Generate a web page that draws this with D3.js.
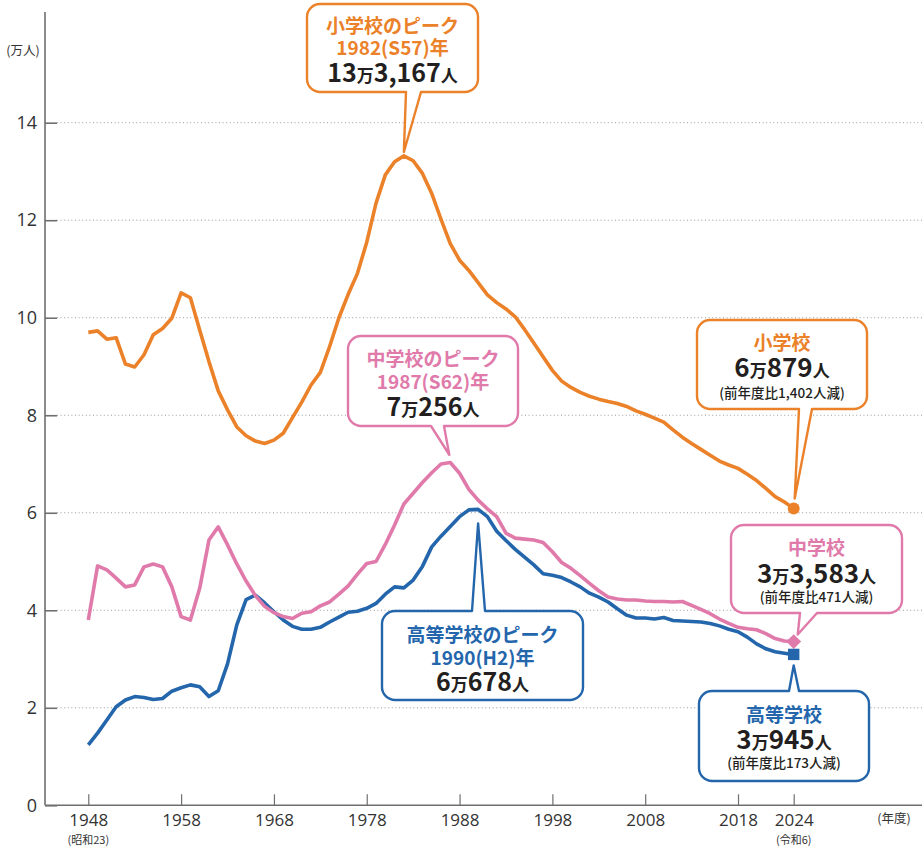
<!DOCTYPE html>
<html>
<head>
<meta charset="utf-8">
<script src="https://cdn.jsdelivr.net/npm/d3@7"></script>
<style>
  body { margin: 0; background: #fff; }
  svg text { font-family: "Noto Sans CJK JP", "Noto Sans", sans-serif; }
</style>
</head>
<body>
<div id="chart-area"></div>
<script>
// 生徒数(万人) 1948〜2024年度
var firstYear = 1948, lastYear = 2024;
var years = d3.range(firstYear, lastYear + 1);

var elementary = [
  9.70, 9.73, 9.56, 9.59, 9.05, 8.99, 9.24, 9.65, 9.78, 9.99,
  10.51, 10.41, 9.75, 9.10, 8.50, 8.11, 7.76, 7.58, 7.47, 7.42,
  7.49, 7.63, 7.95, 8.27, 8.62, 8.88, 9.41, 10.00, 10.48, 10.91,
  11.55, 12.35, 12.93, 13.20, 13.32, 13.22, 12.96, 12.55, 12.02, 11.52,
  11.18, 10.97, 10.72, 10.47, 10.31, 10.18, 10.02, 9.76, 9.48, 9.20,
  8.92, 8.70, 8.57, 8.47, 8.39, 8.33, 8.28, 8.24, 8.18, 8.09,
  8.02, 7.94, 7.86, 7.70, 7.55, 7.42, 7.30, 7.18, 7.06, 6.98,
  6.91, 6.79, 6.66, 6.50, 6.33, 6.22, 6.09
];
var juniorHigh = [
  3.80, 4.91, 4.83, 4.66, 4.48, 4.52, 4.89, 4.95, 4.89, 4.48,
  3.87, 3.80, 4.45, 5.44, 5.71, 5.34, 4.95, 4.60, 4.30, 4.08,
  3.95, 3.87, 3.83, 3.94, 3.97, 4.09, 4.17, 4.33, 4.50, 4.74,
  4.96, 5.00, 5.35, 5.75, 6.18, 6.40, 6.62, 6.82, 7.00, 7.03,
  6.81, 6.48, 6.26, 6.08, 5.92, 5.58, 5.48, 5.46, 5.44, 5.39,
  5.20, 4.98, 4.86, 4.71, 4.55, 4.40, 4.27, 4.23, 4.21, 4.21,
  4.19, 4.18, 4.18, 4.17, 4.18, 4.10, 4.02, 3.93, 3.82, 3.73,
  3.65, 3.62, 3.60, 3.52, 3.42, 3.37, 3.36
];
var highSchool = [
  1.24, 1.48, 1.75, 2.02, 2.16, 2.23, 2.21, 2.17, 2.19, 2.34,
  2.41, 2.47, 2.43, 2.23, 2.35, 2.90, 3.70, 4.22, 4.31, 4.15,
  3.97, 3.80, 3.67, 3.61, 3.61, 3.65, 3.76, 3.86, 3.96, 3.98,
  4.04, 4.14, 4.33, 4.48, 4.46, 4.62, 4.90, 5.30, 5.52, 5.72,
  5.92, 6.06, 6.07, 5.92, 5.62, 5.43, 5.25, 5.09, 4.93, 4.75,
  4.72, 4.67, 4.58, 4.48, 4.35, 4.27, 4.17, 4.03, 3.90, 3.84,
  3.84, 3.82, 3.85, 3.79, 3.78, 3.77, 3.76, 3.73, 3.68, 3.61,
  3.56, 3.45, 3.31, 3.21, 3.15, 3.12, 3.09
];

var yTicks = [0, 2, 4, 6, 8, 10, 12, 14];
var xTicks = [1948, 1958, 1968, 1978, 1988, 1998, 2008, 2018, 2024];
var xSubLabels = { 1948: "(昭和23)", 2024: "(令和6)" };

var peakElementary = { year: 1982, value: 13.3167 };
var peakJunior = { year: 1987, value: 7.0256 };
var peakHigh = { year: 1990, value: 6.0678 };
var lastElementary = 6.0879, lastJunior = 3.3583, lastHigh = 3.0945;

var orange = "#EB8129", pink = "#E07AAA", blue = "#2466AC", ink = "#231F20", axisGray = "#6f6f6f";

var width = 922, height = 847;
var svg = d3.select("#chart-area").append("svg")
    .attr("width", width)
    .attr("height", height);

var x = d3.scaleLinear().domain([firstYear, lastYear]).range([88.3, 793.7]);
var y = d3.scaleLinear().domain([0, 14]).range([805.3, 122.7]);

// gridlines
svg.append("g").selectAll("line")
    .data(yTicks.filter(function(d) { return d > 0; }))
    .enter().append("line")
    .attr("x1", 57).attr("x2", width)
    .attr("y1", function(d) { return y(d); })
    .attr("y2", function(d) { return y(d); })
    .attr("stroke", "#9a9a9a")
    .attr("stroke-width", 1)
    .attr("stroke-dasharray", "1,2.6");

// y axis
var yAxis = svg.append("g")
    .attr("transform", "translate(45,0)")
    .call(d3.axisLeft(y).tickValues(yTicks).tickSize(-12).tickPadding(8));
yAxis.select(".domain").remove();
yAxis.selectAll("line").attr("stroke", axisGray).attr("stroke-width", 1.6);
yAxis.selectAll("text").attr("font-size", "18px").attr("fill", "#333")
    .style("font-family", "'Open Sans', 'Noto Sans', sans-serif");
svg.append("line")
    .attr("x1", 45).attr("x2", 45).attr("y1", 12).attr("y2", y(0))
    .attr("stroke", axisGray).attr("stroke-width", 1.6);

// x axis
var xAxis = svg.append("g")
    .attr("transform", "translate(0," + y(0) + ")")
    .call(d3.axisBottom(x).tickValues(xTicks).tickFormat(d3.format("d")).tickSize(-11).tickPadding(9));
xAxis.select(".domain").remove();
xAxis.selectAll("line").attr("stroke", axisGray).attr("stroke-width", 1.2);
xAxis.selectAll("text").attr("font-size", "17px").attr("fill", "#333")
    .style("font-family", "'Open Sans', 'Noto Sans', sans-serif");
svg.append("line")
    .attr("x1", 45).attr("x2", width).attr("y1", y(0)).attr("y2", y(0))
    .attr("stroke", axisGray).attr("stroke-width", 1.6);

svg.append("g").selectAll("text")
    .data(xTicks.filter(function(d) { return xSubLabels[d]; }))
    .enter().append("text")
    .attr("x", function(d) { return x(d); })
    .attr("y", 843.5)
    .attr("text-anchor", "middle")
    .attr("font-size", "11px")
    .attr("fill", "#333")
    .text(function(d) { return xSubLabels[d]; });

svg.append("text")
    .attr("x", 23).attr("y", 55)
    .attr("text-anchor", "middle")
    .attr("font-size", "12.5px").attr("fill", "#333")
    .text("(万人)");
svg.append("text")
    .attr("x", 894).attr("y", 823)
    .attr("text-anchor", "middle")
    .attr("font-size", "12.5px").attr("fill", "#333")
    .text("(年度)");

// lines
var line = d3.line()
    .x(function(d, i) { return x(years[i]); })
    .y(function(d) { return y(d); });

[[highSchool, blue], [juniorHigh, pink], [elementary, orange]].forEach(function(s) {
  svg.append("path")
      .datum(s[0])
      .attr("d", line)
      .attr("fill", "none")
      .attr("stroke", s[1])
      .attr("stroke-width", 3.6)
      .attr("stroke-linejoin", "round");
});

// end markers
svg.append("circle")
    .attr("cx", x(lastYear)).attr("cy", y(lastElementary))
    .attr("r", 6).attr("fill", orange);
svg.append("path")
    .attr("d", d3.symbol().type(d3.symbolSquare).size(110))
    .attr("transform", "translate(" + x(lastYear) + "," + y(lastJunior) + ") rotate(45)")
    .attr("fill", pink);
svg.append("path")
    .attr("d", d3.symbol().type(d3.symbolSquare).size(130))
    .attr("transform", "translate(" + x(lastYear) + "," + y(lastHigh) + ")")
    .attr("fill", blue);

// callout boxes
function calloutPath(b, r, side, t1, t2, tx, ty) {
  var p = "M" + (b.x0 + r) + "," + b.y0;
  if (side === "top") p += "L" + t1 + "," + b.y0 + "L" + tx + "," + ty + "L" + t2 + "," + b.y0;
  p += "L" + (b.x1 - r) + "," + b.y0;
  p += "A" + r + "," + r + " 0 0 1 " + b.x1 + "," + (b.y0 + r);
  p += "L" + b.x1 + "," + (b.y1 - r);
  p += "A" + r + "," + r + " 0 0 1 " + (b.x1 - r) + "," + b.y1;
  if (side === "bottom") p += "L" + t2 + "," + b.y1 + "L" + tx + "," + ty + "L" + t1 + "," + b.y1;
  p += "L" + (b.x0 + r) + "," + b.y1;
  p += "A" + r + "," + r + " 0 0 1 " + b.x0 + "," + (b.y1 - r);
  p += "L" + b.x0 + "," + (b.y0 + r);
  p += "A" + r + "," + r + " 0 0 1 " + (b.x0 + r) + "," + b.y0 + "Z";
  return p;
}

function callout(opt) {
  var g = svg.append("g");
  g.append("path")
      .attr("d", calloutPath(opt.box, 13, opt.side, opt.t1, opt.t2, opt.tx, opt.ty))
      .attr("fill", "#fff")
      .attr("stroke", opt.color)
      .attr("stroke-width", 2.4)
      .attr("stroke-linejoin", "round");
  var cx = (opt.box.x0 + opt.box.x1) / 2;
  var t = g.append("text")
      .attr("text-anchor", "middle")
      .attr("font-weight", "bold");
  opt.lines.forEach(function(ln) {
    var row = t.append("tspan").attr("x", cx).attr("y", ln.y);
    ln.parts.forEach(function(pt) {
      row.append("tspan")
          .attr("font-size", pt[1] + "px")
          .attr("font-weight", pt[3] || "bold")
          .attr("fill", pt[2])
          .text(pt[0]);
    });
  });
}

callout({
  box: { x0: 307, y0: 4, x1: 478, y1: 92 }, side: "bottom", color: orange,
  t1: 406, t2: 421, tx: x(peakElementary.year), ty: y(peakElementary.value) - 4,
  lines: [
    { y: 33, parts: [["小学校のピーク", 19, orange]] },
    { y: 55, parts: [["1982(S57)年", 19, orange]] },
    { y: 82, parts: [["13", 25, ink], ["万", 17, ink], ["3,167", 25, ink], ["人", 17, ink]] }
  ]
});

callout({
  box: { x0: 348, y0: 336, x1: 518, y1: 426 }, side: "bottom", color: pink,
  t1: 431, t2: 444, tx: x(peakJunior.year) - 1, ty: y(peakJunior.value) - 8,
  lines: [
    { y: 366, parts: [["中学校のピーク", 19, pink]] },
    { y: 389, parts: [["1987(S62)年", 19, pink]] },
    { y: 416, parts: [["7", 25, ink], ["万", 17, ink], ["256", 25, ink], ["人", 17, ink]] }
  ]
});

callout({
  box: { x0: 382, y0: 611, x1: 583, y1: 700 }, side: "top", color: blue,
  t1: 472, t2: 485, tx: x(peakHigh.year), ty: y(peakHigh.value) + 14,
  lines: [
    { y: 642, parts: [["高等学校のピーク", 19, blue]] },
    { y: 665, parts: [["1990(H2)年", 19, blue]] },
    { y: 691, parts: [["6", 25, ink], ["万", 17, ink], ["678", 25, ink], ["人", 17, ink]] }
  ]
});

callout({
  box: { x0: 697, y0: 320, x1: 867, y1: 409 }, side: "bottom", color: orange,
  t1: 799, t2: 812, tx: x(lastYear) + 1, ty: y(lastElementary) - 10,
  lines: [
    { y: 350, parts: [["小学校", 19, orange]] },
    { y: 377, parts: [["6", 26, ink], ["万", 17, ink], ["879", 26, ink], ["人", 17, ink]] },
    { y: 398, parts: [["(前年度比1,402人減)", 13.5, ink, "500"]] }
  ]
});

callout({
  box: { x0: 731, y0: 525, x1: 902, y1: 613 }, side: "bottom", color: pink,
  t1: 800, t2: 817, tx: x(lastYear) + 4, ty: y(lastJunior) - 7,
  lines: [
    { y: 555, parts: [["中学校", 19, pink]] },
    { y: 583, parts: [["3", 26, ink], ["万", 17, ink], ["3,583", 26, ink], ["人", 17, ink]] },
    { y: 602, parts: [["(前年度比471人減)", 13.5, ink, "500"]] }
  ]
});

callout({
  box: { x0: 699, y0: 691, x1: 869, y1: 781 }, side: "top", color: blue,
  t1: 789, t2: 799, tx: x(lastYear), ty: y(lastHigh) + 11,
  lines: [
    { y: 722, parts: [["高等学校", 19, blue]] },
    { y: 749, parts: [["3", 26, ink], ["万", 17, ink], ["945", 26, ink], ["人", 17, ink]] },
    { y: 768, parts: [["(前年度比173人減)", 13.5, ink, "500"]] }
  ]
});
</script>
</body>
</html>
